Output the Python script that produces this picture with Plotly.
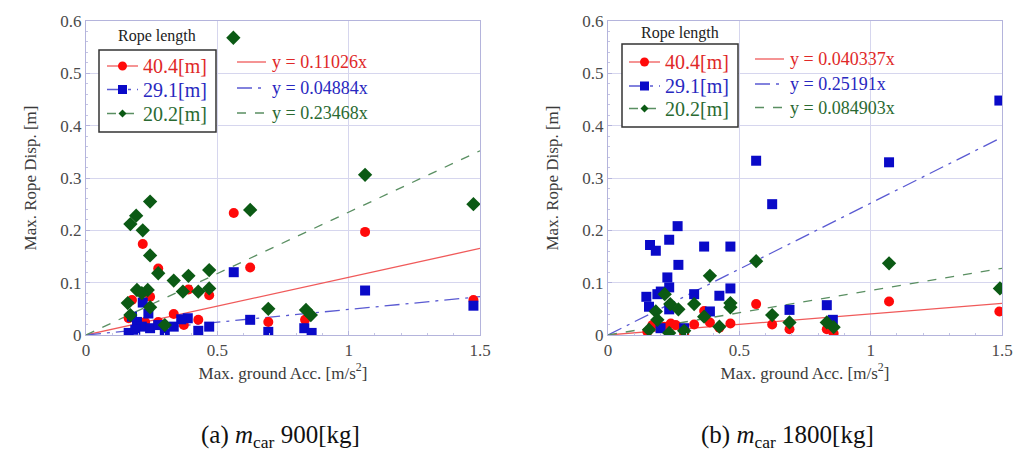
import plotly.graph_objects as go
from plotly.subplots import make_subplots

# rope lengths and fitted slopes
ropes = ["40.4[m]", "29.1[m]", "20.2[m]"]
slopes_a = [0.11026, 0.04884, 0.23468]
slopes_b = [0.040337, 0.25191, 0.084903]
fit_x = [0, 1.5]

# (a) m_car 900 kg
a_red_x = [0.5625, 1.0625, 0.625, 0.216, 0.275, 0.39, 0.469, 0.175, 0.244, 0.334, 0.3725, 0.4275,
           0.1625, 0.694, 0.834, 1.475, 0.275, 0.225]
a_red_y = [0.233, 0.197, 0.129, 0.174, 0.127, 0.087, 0.076, 0.067, 0.073, 0.040, 0.019, 0.029,
           0.032, 0.025, 0.029, 0.067, 0.025, 0.025]
a_blue_x = [0.5625, 1.0625, 1.475, 0.625, 0.694, 0.831, 0.859, 0.469, 0.4275, 0.3875, 0.3625, 0.334,
            0.30, 0.216, 0.2375, 0.1625, 0.175, 0.194, 0.2125, 0.244, 0.275, 0.1875]
a_blue_y = [0.120, 0.085, 0.056, 0.029, 0.006, 0.013, 0.004, 0.016, 0.008, 0.032, 0.030, 0.016,
            0.003, 0.062, 0.041, 0.004, 0.035, 0.025, 0.016, 0.013, 0.019, 0.010]
a_green_x = [0.561, 0.169, 0.191, 0.244, 0.216, 0.244, 0.275, 0.334, 0.39, 0.469, 0.625, 1.0625,
             1.475, 0.469, 0.4275, 0.369, 0.694, 0.8375, 0.856, 0.159, 0.194, 0.235, 0.2125,
             0.244, 0.169, 0.30]
a_green_y = [0.568, 0.212, 0.228, 0.255, 0.200, 0.152, 0.118, 0.104, 0.113, 0.124, 0.239, 0.306,
             0.250, 0.089, 0.083, 0.083, 0.050, 0.048, 0.038, 0.061, 0.086, 0.086, 0.080,
             0.053, 0.038, 0.019]

# (b) m_car 1800 kg
b_red_x = [0.564, 1.07, 1.49, 0.366, 0.388, 0.466, 0.424, 0.625, 0.691, 0.833, 0.859, 0.328,
           0.29, 0.239, 0.15, 0.169, 0.258, 0.214]
b_red_y = [0.059, 0.064, 0.045, 0.046, 0.024, 0.022, 0.014, 0.020, 0.011, 0.011, 0.003, 0.020,
           0.002, 0.022, 0.006, 0.019, 0.019, 0.016]
b_blue_x = [0.564, 1.07, 0.625, 1.49, 0.265, 0.233, 0.160, 0.182, 0.268, 0.366, 0.466, 0.226,
            0.233, 0.466, 0.328, 0.424, 0.388, 0.146, 0.188, 0.201, 0.156, 0.233, 0.691,
            0.833, 0.856, 0.29, 0.2]
b_blue_y = [0.333, 0.330, 0.250, 0.448, 0.208, 0.182, 0.172, 0.161, 0.134, 0.169, 0.169, 0.110,
            0.091, 0.089, 0.078, 0.075, 0.045, 0.073, 0.078, 0.083, 0.054, 0.049, 0.048,
            0.057, 0.029, 0.013, 0.013]
b_green_x = [0.564, 1.07, 1.492, 0.388, 0.216, 0.237, 0.328, 0.466, 0.466, 0.268, 0.182, 0.625,
             0.366, 0.691, 0.833, 0.859, 0.424, 0.156, 0.233, 0.29, 0.188]
b_green_y = [0.141, 0.137, 0.089, 0.113, 0.078, 0.059, 0.059, 0.061, 0.053, 0.049, 0.045, 0.038,
             0.035, 0.024, 0.024, 0.015, 0.016, 0.010, 0.004, 0.008, 0.029]

captions = ["(a) <i>m</i><sub>car</sub> 900[kg]", "(b) <i>m</i><sub>car</sub> 1800[kg]"]

mark_col = ["#ff0a0a", "#0a0ac8", "#0b5a14"]
line_col = ["#f05a5a", "#5a5ad2", "#5a8f62"]
text_col = ["#e02828", "#2828c0", "#2a6a32"]
symbols = ["circle", "square", "diamond"]
msize = [10, 10, 11]
dashes = ["solid", "longdashdot", "dash"]
serif = "Liberation Serif"
W, H = 1024, 451


def px(v):
    return v / W


def py(v):
    return 1 - v / H


def label(x, y, text, size, color, xanchor="center"):
    fig.add_annotation(x=px(x), y=py(y), xref="paper", yref="paper", text=text, showarrow=False,
                       xanchor=xanchor, yanchor="middle",
                       font=dict(family=serif, size=size, color=color))


fig = make_subplots(rows=1, cols=2)

panels = [
    (1, slopes_a, [(a_red_x, a_red_y), (a_blue_x, a_blue_y), (a_green_x, a_green_y)]),
    (2, slopes_b, [(b_red_x, b_red_y), (b_blue_x, b_blue_y), (b_green_x, b_green_y)]),
]

for col, slopes, series in panels:
    # fitted lines
    for i, k in enumerate(slopes):
        fig.add_trace(go.Scatter(x=fit_x, y=[k * v for v in fit_x], mode="lines",
                                 line=dict(color=line_col[i], width=1.3, dash=dashes[i]),
                                 showlegend=False, hoverinfo="skip"), row=1, col=col)
    # data points
    for i, (xs, ys) in enumerate(series):
        fig.add_trace(go.Scatter(x=xs, y=ys, mode="markers",
                                 marker=dict(symbol=symbols[i], size=msize[i], color=mark_col[i]),
                                 showlegend=False), row=1, col=col)

# hand-drawn legends (Origin style), positions in pixels
leg_boxes = [
    (99, 216, 50, 132, 157, 36, [66, 89.5, 113.5], 107, 138, 141, [62, 88, 113], 237, 266, 270, slopes_a),
    (622, 738, 44, 127, 680, 33, [62, 86, 108.5], 629, 660, 663, [59, 84, 107.5], 755, 784, 788, slopes_b),
]
for (bx0, bx1, by0, by1, tx, ty, rows, sx0, sx1, txt_x, frows, fx0, fx1, ftx, slopes) in leg_boxes:
    fig.add_shape(type="rect", xref="paper", yref="paper", x0=px(bx0), x1=px(bx1), y0=py(by0), y1=py(by1),
                  line=dict(color="#333333", width=1.5), fillcolor="white", layer="above")
    label(tx, ty, "Rope length", 16, "#222222")
    for i, ry in enumerate(rows):
        fig.add_shape(type="line", xref="paper", yref="paper", x0=px(sx0), x1=px(sx1), y0=py(ry), y1=py(ry),
                      line=dict(color=line_col[i], width=1.3, dash=dashes[i]), layer="above")
        cx = (sx0 + sx1) / 2
        r = 4.5
        if i == 0:
            fig.add_shape(type="circle", xref="paper", yref="paper", x0=px(cx - r), x1=px(cx + r),
                          y0=py(ry + r), y1=py(ry - r), fillcolor=mark_col[i], line_width=0, layer="above")
        elif i == 1:
            fig.add_shape(type="rect", xref="paper", yref="paper", x0=px(cx - r), x1=px(cx + r),
                          y0=py(ry + r), y1=py(ry - r), fillcolor=mark_col[i], line_width=0, layer="above")
        else:
            d = 4
            path = (f"M {px(cx - d)},{py(ry)} L {px(cx)},{py(ry - d)} "
                    f"L {px(cx + d)},{py(ry)} L {px(cx)},{py(ry + d)} Z")
            fig.add_shape(type="path", xref="paper", yref="paper", path=path,
                          fillcolor=mark_col[i], line_width=0, layer="above")
        label(txt_x, ry, ropes[i], 20, text_col[i], xanchor="left")
    for i, ry in enumerate(frows):
        fig.add_shape(type="line", xref="paper", yref="paper", x0=px(fx0), x1=px(fx1), y0=py(ry), y1=py(ry),
                      line=dict(color=line_col[i], width=1.3, dash=dashes[i]), layer="above")
        label(ftx, ry, f"y = {slopes[i]}x", 18, text_col[i], xanchor="left")

axis_common = dict(
    range=[0, 1.5], dtick=0.5, showgrid=True, gridcolor="#d6d6ee", gridwidth=1,
    showline=True, linecolor="#b4b4dc", linewidth=1, mirror=True, zeroline=False,
    ticks="inside", ticklen=4, tickcolor="#b4b4dc", automargin=False,
    minor=dict(dtick=0.1, ticks="inside", ticklen=2, tickcolor="#c4c4e4", showgrid=False),
    tickfont=dict(family=serif, size=17, color="#4a4a4a"),
    title=dict(text="Max. ground Acc. [m/s<sup>2</sup>]", font=dict(family=serif, size=17, color="#3a3a3a"),
               standoff=4),
)
yaxis_common = dict(
    range=[0, 0.6], dtick=0.1, showgrid=True, gridcolor="#d6d6ee", gridwidth=1,
    showline=True, linecolor="#b4b4dc", linewidth=1, mirror=True, zeroline=False,
    ticks="inside", ticklen=4, tickcolor="#b4b4dc", automargin=False,
    minor=dict(dtick=0.02, ticks="inside", ticklen=2, tickcolor="#c4c4e4", showgrid=False),
    tickfont=dict(family=serif, size=17, color="#4a4a4a"),
    title=dict(text="Max. Rope Disp. [m]", font=dict(family=serif, size=17, color="#3a3a3a"),
               standoff=19),
)

fig.update_xaxes(**axis_common)
fig.update_yaxes(**yaxis_common)
fig.update_layout(
    xaxis=dict(domain=[px(86), px(480)]),
    xaxis2=dict(domain=[px(608), px(1002)]),
    yaxis=dict(domain=[py(335), py(21)]),
    yaxis2=dict(domain=[py(335), py(21)]),
)

for xc, cap in zip([280, 787], captions):
    label(xc, 436, cap, 25, "#111111")

fig.update_layout(
    width=W, height=H,
    margin=dict(l=0, r=0, t=0, b=0),
    paper_bgcolor="white", plot_bgcolor="white",
    font=dict(family=serif), showlegend=False,
)

fig.write_html("out.html", config={"displayModeBar": False},
               post_script="document.body.style.margin='0';")
